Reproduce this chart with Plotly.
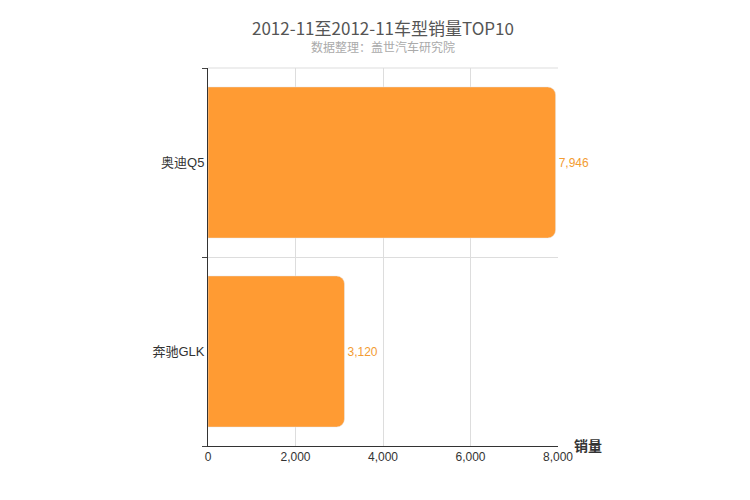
import plotly.graph_objects as go

models = ["奔驰GLK", "奥迪Q5"]
sales = [3120, 7946]

fig = go.Figure(go.Bar(
    x=sales, y=models, orientation="h",
    marker=dict(color="#FF9B33", cornerradius=8),
    width=0.8,
    text=[f"{v:,}" for v in sales], textposition="outside",
    textfont=dict(color="#F39C32", size=12, family="Arial"),
    cliponaxis=False,
))

fig.update_layout(
    width=750, height=500,
    margin=dict(l=200, r=200, t=60, b=62),
    plot_bgcolor="white", paper_bgcolor="white",
    font=dict(family="Arial, Noto Sans CJK SC", color="#333"),
    title=dict(text="2012-11至2012-11车型销量TOP10", x=0.5, y=0.97, xanchor="center",
               font=dict(size=17, color="#555", family="Arial Black, Noto Sans CJK SC")),
    showlegend=False,
    bargap=0.2,
)
fig.add_annotation(text="数据整理：盖世汽车研究院", x=0.5, y=1.03, xref="paper", yref="paper",
                   xanchor="center", yanchor="bottom", showarrow=False,
                   font=dict(size=12, color="#aaa"))
fig.add_annotation(text="<b>销量</b>", x=1.04, y=0, xref="paper", yref="paper",
                   xanchor="left", yanchor="middle", showarrow=False,
                   font=dict(size=14, color="#333"))
fig.update_xaxes(range=[0, 8000], dtick=2000, tickformat=",", showgrid=True,
                 gridcolor="#ddd", zeroline=False, showline=True, linecolor="#333",
                 tickfont=dict(size=12, color="#333"), ticks="outside", ticklen=0)
fig.update_yaxes(tickson="boundaries", showgrid=True, gridcolor="#ddd",
                 showline=True, linecolor="#333", ticks="outside", ticklen=5,
                 tickfont=dict(size=13, color="#333"), mirror=False)
fig.update_layout(shapes=[dict(type="line", xref="paper", yref="paper", x0=0, x1=1, y0=1, y1=1,
                               line=dict(color="#ddd", width=1))])

fig.write_html("out.html")
